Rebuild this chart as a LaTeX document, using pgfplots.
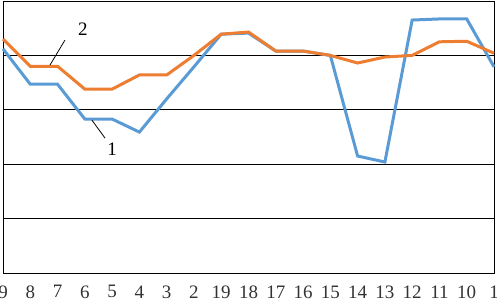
\documentclass[border=0pt]{standalone}
\usepackage{pgfplots}
\pgfplotsset{compat=1.18}
\usepackage{fontspec}
\setmainfont{Liberation Serif}
\definecolor{sblue}{HTML}{5B9BD5}
\definecolor{sorange}{HTML}{ED7D31}
\begin{document}
\begin{tikzpicture}
\begin{axis}[
  scale only axis,
  width=491pt, height=272pt,
  xmin=0, xmax=18, ymin=0, ymax=5,
  xtick={0,...,18},
  xticklabels={9,8,7,6,5,4,3,2,19,18,17,16,15,14,13,12,11,10,1},
  ytick={1,2,3,4},
  yticklabels={},
  ymajorgrids,
  grid style={black, line width=0.7pt},
  major tick length=0pt,
  axis line style={black, line width=0.8pt},
  tick label style={font=\fontsize{19}{22}\selectfont, text=black!80},
  /pgf/number format/assume math mode=true,
  xticklabel style={yshift=-9pt},
  clip=false,
]
\addplot[sblue, line width=3pt] coordinates {
(0,4.12) (1,3.47) (2,3.47) (3,2.83) (4,2.83) (5,2.59) (6,3.20) (7,3.79) (8,4.39)
(9,4.41) (10,4.08) (11,4.08) (12,4.00) (13,2.15) (14,2.04) (15,4.65) (16,4.67) (17,4.67) (18,3.79)
};
\addplot[sorange, line width=3pt] coordinates {
(0,4.30) (1,3.80) (2,3.80) (3,3.38) (4,3.38) (5,3.64) (6,3.64) (7,4.00) (8,4.39)
(9,4.43) (10,4.08) (11,4.08) (12,4.00) (13,3.86) (14,3.97) (15,4.00) (16,4.25) (17,4.26) (18,4.04)
};
\draw[black, line width=0.8pt] (axis cs:2.27,4.28) -- (axis cs:1.72,3.82);
\node[font=\fontsize{19}{22}\selectfont] at (axis cs:2.93,4.49) {2};
\draw[black, line width=0.8pt] (axis cs:3.74,2.48) -- (axis cs:3.26,2.81);
\node[font=\fontsize{19}{22}\selectfont] at (axis cs:4.0,2.28) {1};
\end{axis}
\pgfresetboundingbox
\useasboundingbox (-3pt,-29pt) rectangle (494pt,273pt);
\end{tikzpicture}
\end{document}
